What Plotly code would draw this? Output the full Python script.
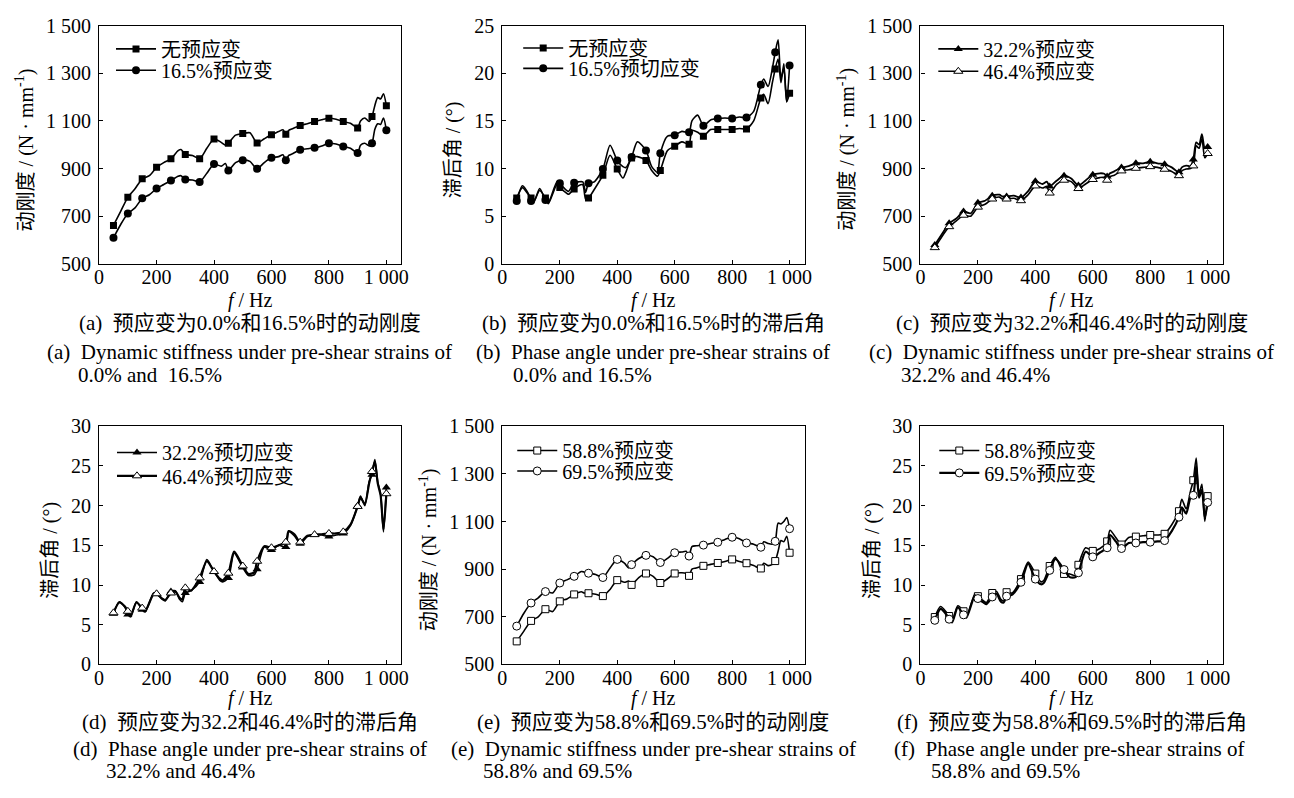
import plotly.graph_objects as go

W, H = 1294, 798
FONT = "Liberation Serif, Noto Sans CJK SC, serif"

# ---------------- data ----------------
F_STIFF = [50, 75, 100, 125, 150, 175, 200, 225, 250, 275, 285, 300, 325, 350, 375, 400, 425, 440, 450, 475,
           500, 525, 550, 575, 600, 625, 640, 650, 660, 675, 700, 725, 750, 775, 800, 825, 850, 875, 900, 910,
           925, 940, 950, 960, 970, 980, 990, 1000]
F_PHASE = [50, 70, 90, 100, 110, 130, 150, 160, 190, 200, 220, 230, 250, 265, 280, 290, 300, 320, 350, 375,
           400, 420, 430, 450, 470, 500, 520, 540, 550, 575, 600, 625, 650, 660, 680, 700, 725, 750, 775, 800,
           825, 850, 875, 900, 910, 925, 940, 950, 960, 970, 980, 990, 1000]

# (a) dynamic stiffness, 0.0% and 16.5%
A_0 = [661, 720, 779, 815, 857, 870, 905, 925, 941, 975, 980, 959, 955, 941, 985, 1024, 1010, 998, 1006, 1040,
       1047, 1050, 1007, 1025, 1042, 1055, 1063, 1044, 1060, 1068, 1081, 1088, 1097, 1105, 1111, 1107, 1097, 1090, 1070, 1100,
       1112, 1098, 1118, 1165, 1198, 1192, 1214, 1164]
A_165 = [609, 665, 711, 735, 775, 790, 816, 833, 850, 868, 870, 854, 852, 844, 880, 919, 910, 921, 892, 925,
         935, 930, 899, 925, 945, 950, 958, 935, 955, 963, 979, 983, 987, 995, 1006, 1003, 993, 985, 965, 998,
         1006, 995, 1006, 1065, 1088, 1085, 1112, 1061]

# (b) phase angle, 0.0% and 16.5%
B_0 = [6.9, 8.0, 7.3, 6.9, 6.6, 7.7, 6.9, 6.3, 8.3, 8.0, 7.5, 7.3, 7.85, 8.2, 8.3, 6.8, 6.9, 7.8, 9.3, 11.4,
       9.95, 9.0, 9.6, 11.1, 11.25, 10.85, 9.8, 9.2, 9.8, 11.9, 12.35, 12.8, 12.55, 14.0, 13.8, 13.4, 14.1, 14.1, 14.1, 14.1,
       14.2, 14.15, 15.0, 17.4, 17.8, 16.8, 19.0, 20.45, 21.5, 19.0, 21.0, 17.0, 17.9]
B_165 = [6.6, 8.2, 7.4, 6.6, 6.5, 7.9, 6.7, 6.4, 8.6, 8.45, 7.8, 7.6, 8.5, 8.6, 8.6, 7.5, 8.45, 8.6, 9.95, 12.45,
         10.85, 10.2, 10.1, 11.2, 12.8, 11.9, 10.2, 9.6, 11.6, 13.4, 13.5, 13.9, 13.8, 15.0, 15.6, 14.5, 15.1, 15.25, 15.3, 15.25,
         15.4, 15.35, 16.0, 18.8, 19.4, 18.6, 20.5, 22.2, 23.5, 19.5, 20.5, 17.0, 20.8]

# (c) dynamic stiffness, 32.2% and 46.4%
C_322 = [579, 625, 670, 690, 720, 712, 756, 765, 786, 790, 783, 783, 786, 778, 805, 847, 835, 845, 825, 850,
         870, 858, 829, 850, 874, 880, 878, 867, 880, 888, 904, 910, 922, 922, 929, 922, 918, 905, 884, 905,
         912, 910, 938, 1010, 1000, 1044, 985, 990]
C_464 = [568, 615, 656, 680, 704, 700, 738, 750, 772, 780, 772, 772, 775, 765, 790, 827, 818, 825, 797, 835,
         851, 845, 816, 835, 854, 862, 863, 851, 866, 872, 890, 895, 901, 905, 908, 905, 897, 888, 870, 890,
         898, 900, 911, 995, 985, 1025, 945, 963]

# (d) phase angle, 32.2% and 46.4%
D_322 = [6.4, 7.9, 7.2, 6.3, 6.0, 7.9, 6.9, 6.6, 9.0, 8.9, 8.2, 8.0, 9.2, 9.3, 8.2, 7.9, 9.0, 9.3, 10.4, 13.2,
         11.7, 10.6, 10.4, 10.9, 14.0, 12.2, 11.2, 11.3, 12.0, 14.8, 14.4, 15.0, 14.8, 16.7, 16.2, 15.2, 16.1, 16.3, 16.3, 16.1,
         16.3, 16.5, 17.5, 20.0, 21.2, 20.0, 23.0, 23.9, 25.8, 23.0, 21.5, 16.7, 22.3]
D_464 = [6.5, 7.8, 7.3, 6.7, 6.2, 7.8, 7.1, 6.7, 8.9, 8.9, 8.3, 8.1, 9.0, 9.2, 8.4, 8.2, 9.65, 9.3, 10.9, 13.0,
         11.7, 10.8, 10.6, 11.5, 14.2, 12.4, 11.4, 11.6, 13.0, 14.9, 14.7, 15.0, 15.4, 16.8, 16.4, 15.4, 16.2, 16.35, 16.4, 16.5,
         16.5, 16.7, 17.6, 19.9, 21.0, 20.2, 22.8, 24.3, 25.5, 22.8, 21.3, 17.0, 21.5]

# (e) dynamic stiffness, 58.8% and 69.5%
E_588 = [597, 640, 683, 700, 732, 722, 765, 775, 794, 805, 800, 799, 795, 787, 815, 854, 845, 850, 834, 865,
         882, 870, 842, 860, 882, 885, 882, 872, 900, 905, 914, 920, 926, 932, 941, 932, 925, 915, 903, 925,
         915, 920, 934, 975, 1020, 1015, 1038, 969]
E_695 = [661, 715, 758, 780, 806, 800, 842, 855, 870, 890, 888, 883, 878, 865, 905, 941, 925, 905, 919, 945,
         958, 952, 928, 945, 969, 972, 975, 955, 995, 998, 1001, 1008, 1013, 1025, 1034, 1028, 1010, 1005, 992, 1015,
         1008, 1005, 1017, 1093, 1090, 1100, 1117, 1070]

# (f) phase angle, 58.8% and 69.5%
F_588 = [5.97, 7.3, 6.6, 6.1, 5.4, 7.4, 6.7, 6.0, 8.9, 8.6, 8.0, 7.8, 9.0, 9.2, 8.2, 8.0, 9.1, 9.0, 10.75, 12.9,
         11.45, 10.4, 10.6, 12.4, 13.5, 11.4, 11.4, 11.2, 12.55, 14.7, 14.3, 14.6, 15.5, 16.9, 16.0, 15.1, 16.0, 16.1, 16.2, 16.3,
         16.3, 16.45, 17.6, 19.3, 20.8, 19.6, 21.8, 23.2, 26.0, 21.5, 22.7, 18.0, 21.2]
F_695 = [5.56, 7.0, 6.3, 5.7, 5.3, 7.2, 6.25, 5.9, 8.7, 8.3, 7.8, 7.6, 8.5, 8.9, 7.9, 7.8, 8.6, 8.8, 10.35, 12.7,
         10.75, 10.1, 10.3, 11.85, 13.3, 11.95, 11.0, 11.0, 11.55, 14.2, 13.55, 14.1, 14.7, 16.3, 15.5, 14.6, 15.3, 15.3, 15.4, 15.4,
         15.5, 15.6, 16.8, 18.55, 19.8, 19.0, 21.0, 21.3, 25.0, 21.0, 22.0, 18.5, 20.4]

X_TICKS = [0, 200, 400, 600, 800, 1000]
X_TICKTEXT = ["0", "200", "400", "600", "800", "1 000"]
STIFF_TICKS = [500, 700, 900, 1100, 1300, 1500]
STIFF_TICKTEXT = ["500", "700", "900", "1 100", "1 300", "1 500"]
PHASE25_TICKS = [0, 5, 10, 15, 20, 25]
PHASE30_TICKS = [0, 5, 10, 15, 20, 25, 30]

STIFF_TITLE = "动刚度 / (N · mm<sup>-1</sup>)"
PHASE_TITLE = "滞后角 / (°)"

CAP_CN = ["(a)\u00a0\u00a0预应变为0.0%和16.5%时的动刚度",
          "(b)\u00a0\u00a0预应变为0.0%和16.5%时的滞后角",
          "(c)\u00a0\u00a0预应变为32.2%和46.4%时的动刚度",
          "(d)\u00a0\u00a0预应变为32.2和46.4%时的滞后角",
          "(e)\u00a0\u00a0预应变为58.8%和69.5%时的动刚度",
          "(f)\u00a0\u00a0预应变为58.8%和69.5%时的滞后角"]
CAP_EN1 = ["(a)\u00a0\u00a0Dynamic stiffness under pre-shear strains of",
           "(b)\u00a0\u00a0Phase angle under pre-shear strains of",
           "(c)\u00a0\u00a0Dynamic stiffness under pre-shear strains of",
           "(d)\u00a0\u00a0Phase angle under pre-shear strains of",
           "(e)\u00a0\u00a0Dynamic stiffness under pre-shear strains of",
           "(f)\u00a0\u00a0Phase angle under pre-shear strains of"]
CAP_EN2 = ["0.0% and\u00a0\u00a016.5%", "0.0% and 16.5%", "32.2% and 46.4%",
           "32.2% and 46.4%", "58.8% and 69.5%", "58.8% and 69.5%"]

# ---------------- layout helpers ----------------
def px(x):
    return x / W


def py(y):
    return 1 - y / H


COLS = [(95, 400), (502, 807), (924, 1229)]
ROWS = [(15, 260), (427, 672)]

panels = [
    dict(col=0, row=0, f=F_STIFF, kind="stiff", yr=[500, 1500], yt=STIFF_TICKS, ytt=STIFF_TICKTEXT,
         series=[("无预应变", A_0, "square", True, 1.6), ("16.5%预应变", A_165, "circle", True, 1.6)],
         leg=(112, [39, 61]), en1=40, en2=72),
    dict(col=1, row=0, f=F_PHASE, kind="phase", yr=[0, 25], yt=PHASE25_TICKS, ytt=[str(v) for v in PHASE25_TICKS],
         series=[("无预应变", B_0, "square", True, 1.6), ("16.5%预切应变", B_165, "circle", True, 1.6)],
         leg=(523, [38, 59]), en1=473, en2=511),
    dict(col=2, row=0, f=F_STIFF, kind="stiff", yr=[500, 1500], yt=STIFF_TICKS, ytt=STIFF_TICKTEXT,
         series=[("32.2%预应变", C_322, "triangle-up", True, 1.8), ("46.4%预应变", C_464, "triangle-up", False, 1.6)],
         leg=(942, [39, 62]), en1=870, en2=902),
    dict(col=0, row=1, f=F_PHASE, kind="phase", yr=[0, 30], yt=PHASE30_TICKS, ytt=[str(v) for v in PHASE30_TICKS],
         series=[("32.2%预切应变", D_322, "triangle-up", True, 1.6), ("46.4%预切应变", D_464, "triangle-up", False, 2.2)],
         leg=(113, [454, 478]), en1=67, en2=100),
    dict(col=1, row=1, f=F_STIFF, kind="stiff", yr=[500, 1500], yt=STIFF_TICKS, ytt=STIFF_TICKTEXT,
         series=[("58.8%预应变", E_588, "square", False, 1.6), ("69.5%预应变", E_695, "circle", False, 1.6)],
         leg=(517, [452, 473]), en1=448, en2=480),
    dict(col=2, row=1, f=F_PHASE, kind="phase", yr=[0, 30], yt=PHASE30_TICKS, ytt=[str(v) for v in PHASE30_TICKS],
         series=[("58.8%预应变", F_588, "square", False, 1.6), ("69.5%预应变", F_695, "circle", False, 2.2)],
         leg=(943, [452, 475]), en1=895, en2=933),
]

fig = go.Figure()
layout = dict(
    width=W, height=H, margin=dict(l=0, r=0, t=0, b=0),
    paper_bgcolor="white", plot_bgcolor="white",
    font=dict(family=FONT, size=20, color="black"),
    annotations=[],
)

axis_common = dict(showline=True, mirror=True, linecolor="black", linewidth=1.3,
                   ticks="inside", ticklen=4, tickwidth=1.2, tickcolor="black",
                   showgrid=False, zeroline=False,
                   tickfont=dict(family=FONT, size=20, color="black"))

MSIZE = {"square": 7, "circle": 8, "triangle-up": 8}

leg_idx = 0
for i, p in enumerate(panels):
    n = "" if i == 0 else str(i + 1)
    x0, x1 = COLS[p["col"]]
    y0, y1 = ROWS[p["row"]]
    layout["xaxis" + n] = dict(axis_common, domain=[px(x0), px(x1)], range=[0, 1052],
                               tickvals=X_TICKS, ticktext=X_TICKTEXT, anchor="y" + n,
                               ticklabelstandoff=-5)
    layout["yaxis" + n] = dict(axis_common, domain=[py(y1), py(y0)], range=p["yr"],
                               tickvals=p["yt"], ticktext=p["ytt"], anchor="x" + n,
                               ticklabelstandoff=3)
    freqs = p["f"]
    is_mark = [f % 50 == 0 for f in freqs]
    for j, (name, vals, sym, filled, lw) in enumerate(p["series"]):
        leg_idx += 1
        lname = "legend" if leg_idx == 1 else "legend%d" % leg_idx
        fill_col = "black" if filled else "white"
        mcol = [fill_col if m else "rgba(0,0,0,0)" for m in is_mark]
        mlcol = ["black" if m else "rgba(0,0,0,0)" for m in is_mark]
        fig.add_trace(go.Scatter(
            x=freqs, y=vals, name=name, mode="lines+markers",
            line=dict(color="black", width=lw, shape="spline", smoothing=0.7),
            marker=dict(symbol=sym, size=MSIZE[sym], color=mcol,
                        line=dict(color=mlcol, width=0 if filled else 1)),
            xaxis="x" + n, yaxis="y" + n, legend=lname, showlegend=True,
        ))
        sx, rows = p["leg"]
        layout[lname] = dict(x=px(sx - 5), y=py(rows[j]), xanchor="left", yanchor="middle",
                             bgcolor="rgba(0,0,0,0)", borderwidth=0, itemwidth=40,
                             font=dict(family=FONT, size=20, color="black"))

    cx = (x0 + x1) / 2
    # y-axis title
    off = 75 if p["kind"] == "stiff" else 49
    layout["annotations"].append(dict(
        text=STIFF_TITLE if p["kind"] == "stiff" else PHASE_TITLE,
        x=px(x0 - off), y=py((y0 + y1) / 2 + 5), xref="paper", yref="paper",
        textangle=-90, showarrow=False, xanchor="center", yanchor="middle",
        font=dict(family=FONT, size=20, color="black")))
    # x-axis title
    xt_off = 38 if p["row"] == 0 else 35
    layout["annotations"].append(dict(
        text="<i>f</i> / Hz", x=px(cx), y=py(y1 + xt_off), xref="paper", yref="paper",
        showarrow=False, xanchor="center", yanchor="middle",
        font=dict(family=FONT, size=20, color="black")))
    # captions
    cap_y = 321 if p["row"] == 0 else 731
    en1_off, en2_off = (30, 53) if p["row"] == 0 else (28, 51)
    layout["annotations"].append(dict(
        text=CAP_CN[i], x=px(cx), y=py(cap_y), xref="paper", yref="paper",
        showarrow=False, xanchor="center", yanchor="middle",
        font=dict(family=FONT, size=21, color="black")))
    layout["annotations"].append(dict(
        text=CAP_EN1[i], x=px(p["en1"]), y=py(cap_y + en1_off), xref="paper", yref="paper",
        showarrow=False, xanchor="left", yanchor="middle",
        font=dict(family=FONT, size=21, color="black")))
    layout["annotations"].append(dict(
        text=CAP_EN2[i], x=px(p["en2"]), y=py(cap_y + en2_off), xref="paper", yref="paper",
        showarrow=False, xanchor="left", yanchor="middle",
        font=dict(family=FONT, size=21, color="black")))

fig.update_layout(**layout)
fig.write_html("out.html", config={"displayModeBar": False},
               post_script="document.body.style.margin='0';")
